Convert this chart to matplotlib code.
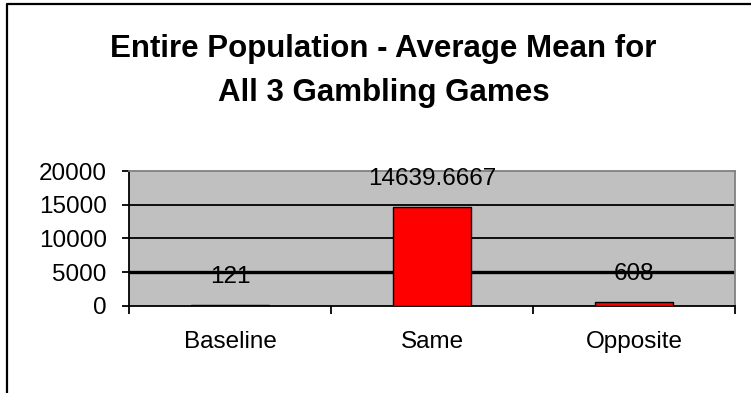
import matplotlib.pyplot as plt
from matplotlib.lines import Line2D

# Average mean per condition
categories = ["Baseline", "Same", "Opposite"]
values = [121, 14639.6667, 608]
value_labels = ["121", "14639.6667", "608"]
y_ticks = [0, 5000, 10000, 15000, 20000]

W, H = 751, 393
fig = plt.figure(figsize=(W / 100, H / 100), dpi=100)
plt.rcParams['font.family'] = ['Liberation Sans', 'DejaVu Sans']

# chart frame (only left and top edges visible)
fig.add_artist(Line2D([7 / W, 7 / W, 1.0], [0.0, 1 - 4 / H, 1 - 4 / H],
                      transform=fig.transFigure, color='black', lw=1.6))

ax = fig.add_axes([129 / W, 1 - 305.6 / H, (735 - 129) / W, (305.6 - 171.3) / H])
ax.set_facecolor('#c0c0c0')

x = range(len(categories))
ax.bar(x, values, width=0.39, color='#ff0000', edgecolor='black', linewidth=1.0, zorder=3)

# gridlines, the 5000 one drawn heavier
for t in y_ticks[1:-1]:
    ax.axhline(t, color='black', lw=2.4 if t == 5000 else 1.3, zorder=2)

for i, (v, lab) in enumerate(zip(values, value_labels)):
    ax.annotate(lab, (i, v), xytext=(0, 28), textcoords='offset pixels',
                ha='center', va='center', fontsize=17.5, color='black', zorder=4)

ax.set_xlim(-0.5, 2.5)
ax.set_ylim(0, 20000)
ax.set_yticks(y_ticks)
ax.set_yticklabels([str(t) for t in y_ticks], fontsize=17.5)
ax.set_xticks([-0.5, 0.5, 1.5, 2.5])
ax.set_xticklabels([])
ax.set_xticks([0, 1, 2], minor=True)
ax.set_xticklabels(categories, minor=True, fontsize=17.5)
ax.tick_params(axis='x', which='minor', length=0, pad=18)
ax.tick_params(axis='x', which='major', direction='out', length=6, width=1.3, color='black')
ax.tick_params(axis='y', direction='out', length=5, width=1.3, pad=11)

for side in ['left', 'bottom']:
    ax.spines[side].set_color('black')
    ax.spines[side].set_linewidth(1.3)
for side in ['top', 'right']:
    ax.spines[side].set_color('#808080')
    ax.spines[side].set_linewidth(1.3)

fig.text(383.5 / W, 1 - 49 / H, "Entire Population - Average Mean for",
         ha='center', va='center', fontsize=22.5, fontweight='bold')
fig.text(383.5 / W, 1 - 93 / H, "All 3 Gambling Games",
         ha='center', va='center', fontsize=22.5, fontweight='bold')

fig.savefig("out.png", dpi=100)
